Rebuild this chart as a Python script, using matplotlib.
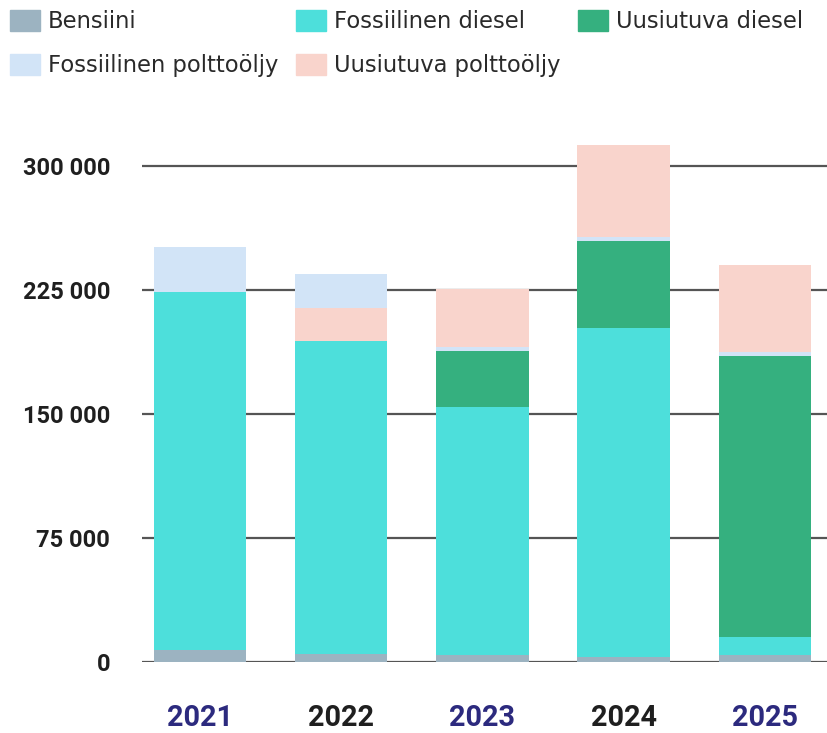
import matplotlib
matplotlib.use("Agg")
import matplotlib.pyplot as plt
import matplotlib.transforms as mtransforms
from matplotlib.patches import Patch
import numpy as np

years = ["2021", "2022", "2023", "2024", "2025"]
bensiini = [7300, 5100, 4100, 3300, 4100]
fossiilinen_diesel = [216300, 188900, 150000, 198600, 11300]
uusiutuva_diesel = [0, 0, 34000, 52600, 170000]
fossiilinen_polttooljy = [27300, 21000, 2600, 2600, 2000]
uusiutuva_polttooljy = [0, 20000, 35000, 55500, 53000]

labels = ["Bensiini", "Fossiilinen diesel", "Uusiutuva diesel",
          "Fossiilinen polttoöljy", "Uusiutuva polttoöljy"]
colors = ["#9cb3c1", "#4ddfdb", "#35b07f", "#d2e4f7", "#f9d4cc"]
year_colors = ["#2c2a7e", "#1f1f1f", "#2c2a7e", "#1f1f1f", "#2c2a7e"]

# stacking order per year (in 2022 the renewable fuel oil sits below the fossil one)
stack_order = [[0, 1, 2, 3, 4], [0, 1, 2, 4, 3], [0, 1, 2, 3, 4],
               [0, 1, 2, 3, 4], [0, 1, 2, 3, 4]]

plt.rcParams['font.family'] = ['DejaVu Sans']

fig = plt.figure(figsize=(8.27, 7.33), dpi=100)
ax = fig.add_axes([142 / 827, 71 / 733, 1 - 142 / 827, 0.7217])

series = [bensiini, fossiilinen_diesel, uusiutuva_diesel,
          fossiilinen_polttooljy, uusiutuva_polttooljy]
for i in range(len(years)):
    bottom = 0
    for s in stack_order[i]:
        v = series[s][i]
        ax.bar(i, v, bottom=bottom, width=0.655, color=colors[s], zorder=3)
        bottom += v

ax.set_ylim(0, 320000)
ax.set_xlim(-0.41, 4.44)
ax.set_yticks([0, 75000, 150000, 225000, 300000])
ax.set_yticklabels(["0", "75 000", "150 000", "225 000", "300 000"],
                   fontsize=17, fontweight='bold', color='#1f1f1f',
                   family=['Roboto', 'DejaVu Sans'])
offset = mtransforms.ScaledTranslation(0, 5 / 100, fig.dpi_scale_trans)
for t in ax.get_yticklabels():
    t.set_transform(t.get_transform() + offset)
ax.yaxis.grid(True, color='#555555', linewidth=1.6, zorder=1)
ax.tick_params(axis='y', length=0, pad=23)
ax.tick_params(axis='x', length=0, pad=30)
ax.set_xticks(range(len(years)))
ax.set_xticklabels(years, fontsize=20.8, fontweight='bold',
                   family=['Roboto', 'DejaVu Sans'])
for t, c in zip(ax.get_xticklabels(), year_colors):
    t.set_color(c)
for s in ax.spines.values():
    s.set_visible(False)

order = [0, 3, 1, 4, 2]
handles = [Patch(color=colors[i], label=labels[i]) for i in order]
leg = fig.legend(handles=handles, ncol=3, loc='upper left',
                 bbox_to_anchor=(0.0, 1.0), frameon=False, fontsize=16.3,
                 handlelength=1.3, handleheight=1.0, handletextpad=0.36,
                 columnspacing=0.8, labelspacing=0.93, borderpad=0.45,
                 borderaxespad=0)
for t in leg.get_texts():
    t.set_color('#2a2a2a')

fig.savefig("out.png", dpi=100)
